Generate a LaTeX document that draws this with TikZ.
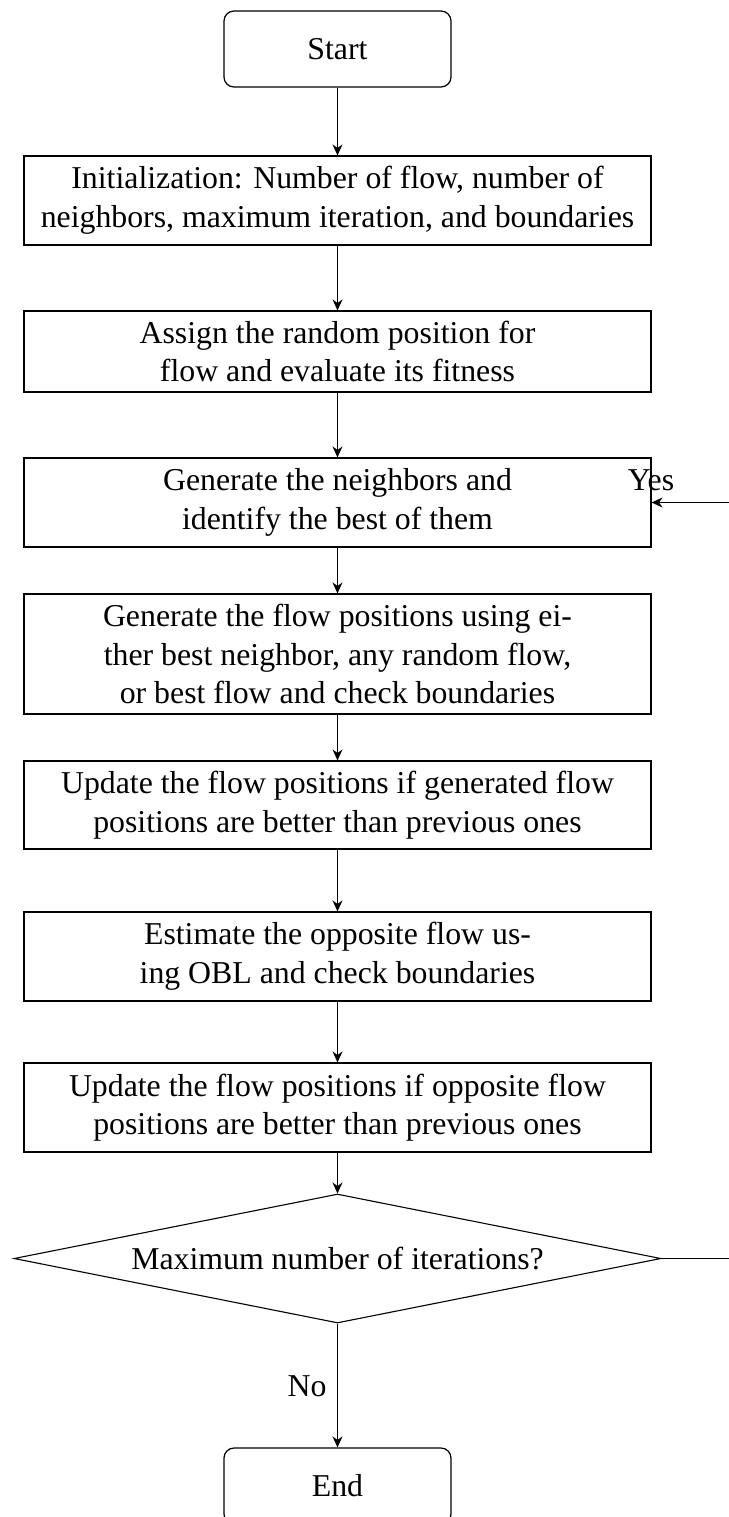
\documentclass[tikz,border=0pt]{standalone}
\usepackage{fontspec}
\setmainfont{Liberation Serif}
\usetikzlibrary{shapes.geometric,arrows.meta}
\begin{document}
\begin{tikzpicture}[x=0.5pt,y=-0.5pt,
  font=\fontsize{15.9}{19.3}\selectfont,
  box/.style={draw, rectangle, minimum width=313.5pt, inner sep=0pt, align=center, line width=0.6pt},
  term/.style={draw, rectangle, rounded corners=5pt, minimum width=113.5pt, minimum height=38pt, inner sep=0pt, line width=0.6pt},
  decision/.style={draw, diamond, aspect=5, minimum width=323.5pt, minimum height=64.5pt, inner sep=0pt, line width=0.55pt},
  flow/.style={-{Stealth[length=5.5pt,width=5pt,inset=1.8pt]}, line width=0.7pt},
  lbl/.style={inner sep=0pt}]

\useasboundingbox (0,0) rectangle (729,1517);
\clip (0,0) rectangle (729,1517);

% process steps, top to bottom
\node[term] (start) at (337.5,49) {Start};
\node[box, minimum height=44.5pt] (init) at (337.5,200.5)
  {Initialization: Number of flow, number of\\neighbors, maximum iteration, and boundaries};
\node[box, minimum height=40.5pt] (assign) at (337.5,351.5)
  {Assign the random position for\\flow and evaluate its fitness};
\node[box, minimum height=44.5pt] (neigh) at (337.5,502.5)
  {Generate the neighbors and\\identify the best of them};
\node[box, minimum height=60pt] (genflow) at (337.5,654)
  {Generate the flow positions using ei-\\ther best neighbor, any random flow,\\or best flow and check boundaries};
\node[box, minimum height=44pt] (updgen) at (337.5,805)
  {Update the flow positions if generated flow\\positions are better than previous ones};
\node[box, minimum height=44.5pt] (obl) at (337.5,956.5)
  {Estimate the opposite flow us-\\ing OBL and check boundaries};
\node[box, minimum height=44.5pt] (updopp) at (337.5,1107.5)
  {Update the flow positions if opposite flow\\positions are better than previous ones};
\node[decision] (maxit) at (337.5,1258.5) {Maximum number of iterations?};
\node[term] (end) at (337.5,1486) {End};

% main sequence
\draw[flow] (start) -- (init);
\draw[flow] (init) -- (assign);
\draw[flow] (assign) -- (neigh);
\draw[flow] (neigh) -- (genflow);
\draw[flow] (genflow) -- (updgen);
\draw[flow] (updgen) -- (obl);
\draw[flow] (obl) -- (updopp);
\draw[flow] (updopp) -- (maxit);
\draw[flow] (maxit) -- (end);
\node[lbl, anchor=base east] (no) at (327,1396) {No};

% loop back to neighbor generation
\coordinate (loopbot) at (770,1258.5);
\coordinate (looptop) at (770,502.5);
\draw[flow] (maxit.east) -- (loopbot) -- (looptop) -- (neigh.east);
\node[lbl, anchor=base] (yes) at (651,490) {Yes};
\end{tikzpicture}
\end{document}
